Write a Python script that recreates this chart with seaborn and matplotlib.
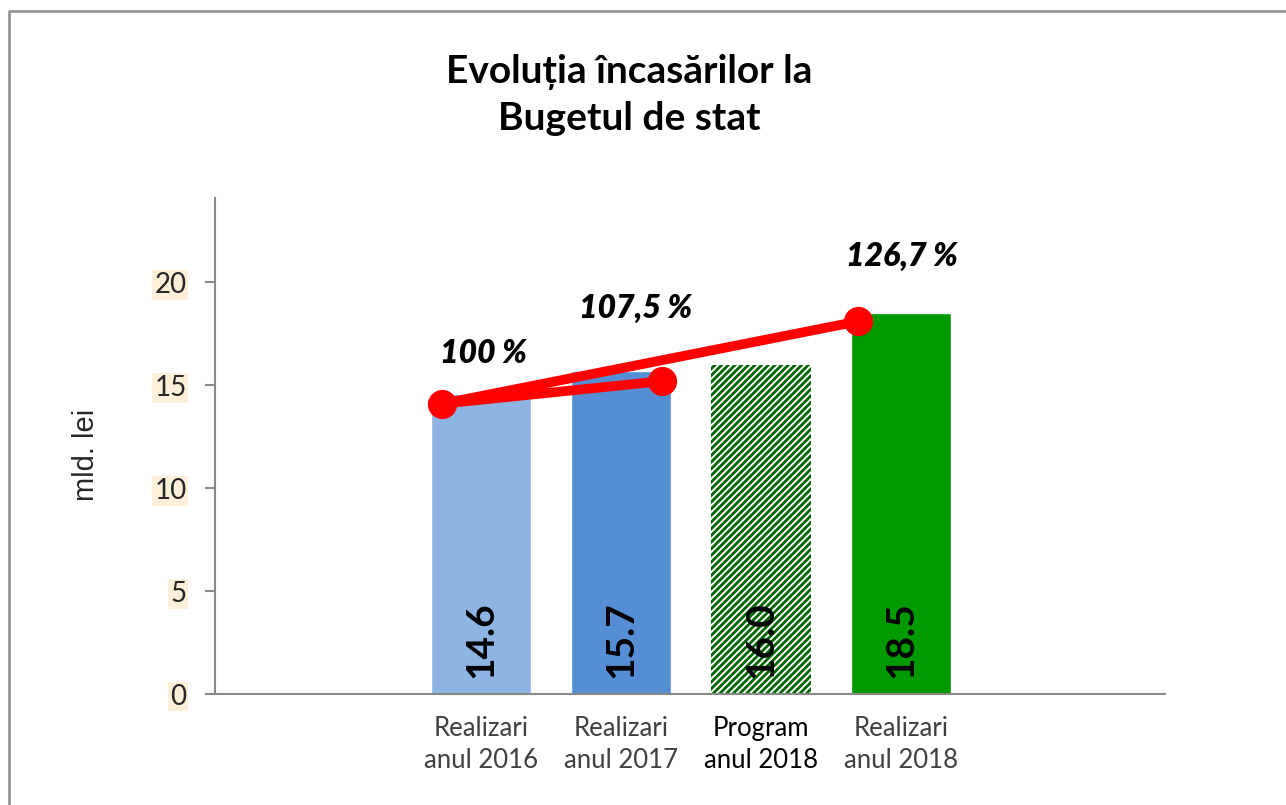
import matplotlib
matplotlib.use("Agg")
import matplotlib.pyplot as plt
import seaborn as sns
import pandas as pd
from matplotlib.lines import Line2D

# data
categories = ["Realizari\nanul 2016", "Realizari\nanul 2017", "Program\nanul 2018", "Realizari\nanul 2018"]
values = [14.6, 15.7, 16.0, 18.5]
bar_colors = ["#8EB4E3", "#558ED5", "#FFFFFF", "#009900"]
label_colors = ["#404040", "#404040", "#000000", "#404040"]

pct_labels = ["100 %", "107,5 %", "126,7 %"]
pct_x = [-0.28, 1.29, 2.69]
pct_y = [14.1, 15.2, 18.1]
path_order = [1, 0, 2]  # the red line runs 2017 -> 2016 -> 2018

# layout
label_offsets = [(30, 36), (-19, 52), (32, 47)]

sns.set_theme(style="white")
plt.rcParams["font.family"] = ["Lato", "DejaVu Sans"]
plt.rcParams["hatch.linewidth"] = 2.0

fig = plt.figure(figsize=(12.86, 8.05), dpi=100)
ax = fig.add_axes([215 / 1286, 1 - 694 / 805, 950 / 1286, 496 / 805])

df = pd.DataFrame({"cat": categories, "val": values})
sns.barplot(data=df, x="cat", y="val", hue="cat", palette=bar_colors,
            width=0.714, saturation=1, legend=False, ax=ax)

hatched = ax.patches[2]
hatched.set_hatch("/////")
hatched.set_edgecolor("#006600")
hatched.set_linewidth(0)

for i, v in enumerate(values):
    ax.text(i, 0.8, f"{v:.1f}", rotation=90, ha="center", va="bottom",
            fontsize=28, fontweight="bold", color="black")

lx = [pct_x[i] for i in path_order]
ly = [pct_y[i] for i in path_order]
sns.lineplot(x=lx, y=ly, sort=False, color="#FF0000", lw=7, ax=ax)
ax.plot(pct_x, pct_y, "o", color="#FF0000", ms=20, zorder=5)

for x, y, t, off in zip(pct_x, pct_y, pct_labels, label_offsets):
    ax.annotate(t, (x, y), xytext=off, textcoords="offset points",
                ha="center", va="center", fontsize=23,
                fontweight="heavy", fontstyle="italic", color="black")

ax.set_xlim(-1.9, 4.886)
ax.set_ylim(0, 24.1)
ax.set_yticks([0, 5, 10, 15, 20])
ax.set_xlabel("")
ax.set_ylabel("mld. lei", fontsize=21, family=["Liberation Sans", "DejaVu Sans"])
ax.yaxis.set_label_coords(-0.121, 0.482)

for s in ["top", "right"]:
    ax.spines[s].set_visible(False)
for s in ["left", "bottom"]:
    ax.spines[s].set_color("#898989")
    ax.spines[s].set_linewidth(1.5)

ax.tick_params(axis="y", left=True, length=7, width=1.5, color="#898989",
               labelsize=20, pad=13.5)
ax.tick_params(axis="x", bottom=False, labelsize=18.5, pad=10)
for lab in ax.get_yticklabels():
    lab.set_bbox(dict(facecolor="#FDEFD8", edgecolor="none", pad=1.5))
for lab, c in zip(ax.get_xticklabels(), label_colors):
    lab.set_color(c)
    lab.set_linespacing(1.35)

fig.text(629 / 1286, 1 - 95 / 805, "Evoluția încasărilor la\nBugetul de stat",
         ha="center", va="center", fontsize=28, fontweight="bold",
         linespacing=1.4, color="black")

frame_x = 9 / 1286
frame_y = 1 - 11 / 805
fig.add_artist(Line2D([frame_x, frame_x, 1], [0, frame_y, frame_y],
                      transform=fig.transFigure, color="#8C8C8C", lw=1.8))

fig.savefig("out.png", dpi=100)
